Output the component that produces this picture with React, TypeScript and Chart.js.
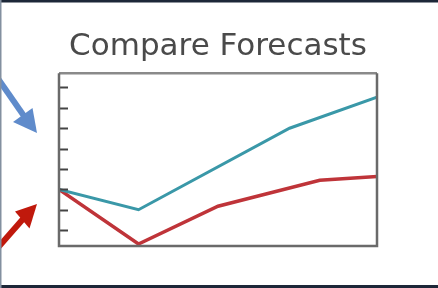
import React, { useEffect, useRef } from "react";
import { Chart, registerables } from "chart.js";

Chart.register(...registerables);

const titleText = "Compare Forecasts";
const seriesNames = ["Forecast A", "Forecast B"];
const tealX = [0, 2.5, 7.25, 10];
const tealY = [3.0, 2.0, 6.0, 7.52];
const redX = [0, 2.5, 5, 8.2, 10];
const redY = [3.0, 0.32, 2.17, 3.45, 3.63];
const yTickValues = [1, 2, 3, 4, 5, 6, 7, 8];

const framePlugin = {
  id: "frameTicks",
  afterDatasetsDraw(chart: any) {
    const { ctx, chartArea } = chart;
    const y = chart.scales.y;
    ctx.save();
    ctx.strokeStyle = "#444";
    ctx.lineWidth = 2;
    yTickValues.forEach((v) => {
      const py = Math.round(y.getPixelForValue(v)) + 0.5;
      ctx.beginPath();
      ctx.moveTo(chartArea.left, py);
      ctx.lineTo(chartArea.left + 9, py);
      ctx.stroke();
    });
    ctx.lineWidth = 2.5;
    ctx.strokeStyle = "#8a8a8a";
    ctx.beginPath();
    ctx.moveTo(chartArea.left, chartArea.top);
    ctx.lineTo(chartArea.right, chartArea.top);
    ctx.stroke();
    ctx.strokeStyle = "#6a6a6a";
    ctx.beginPath();
    ctx.moveTo(chartArea.right, chartArea.top);
    ctx.lineTo(chartArea.right, chartArea.bottom);
    ctx.lineTo(chartArea.left, chartArea.bottom);
    ctx.lineTo(chartArea.left, chartArea.top);
    ctx.stroke();
    ctx.restore();
  },
};

export default function App() {
  const ref = useRef<HTMLCanvasElement | null>(null);
  useEffect(() => {
    if (!ref.current) return;
    const chart = new Chart(ref.current, {
      type: "line",
      data: {
        datasets: [
          {
            label: seriesNames[0],
            data: tealX.map((x, i) => ({ x, y: tealY[i] })),
            borderColor: "#3a98a8",
            borderWidth: 3,
            pointRadius: 0,
            tension: 0,
          },
          {
            label: seriesNames[1],
            data: redX.map((x, i) => ({ x, y: redY[i] })),
            borderColor: "#bf3439",
            borderWidth: 3.5,
            pointRadius: 0,
            tension: 0,
          },
        ],
      },
      options: {
        responsive: false,
        animation: false,
        layout: { padding: { left: 59, right: 61, top: 0, bottom: 42 } },
        plugins: {
          legend: { display: false },
          tooltip: { enabled: false },
          title: {
            display: true,
            text: titleText,
            color: "#4a4a4a",
            font: { family: "'DejaVu Sans'", size: 31, weight: "normal" },
            padding: { top: 28, bottom: 8 },
          },
        },
        scales: {
          x: {
            type: "linear",
            min: 0,
            max: 10,
            ticks: { display: false },
            grid: { display: false, drawTicks: false },
            border: { display: false },
          },
          y: {
            type: "linear",
            min: 0.22,
            max: 8.7,
            ticks: { display: false },
            grid: { display: false, drawTicks: false },
            border: { display: false },
          },
        },
      },
      plugins: [framePlugin],
    } as any);
    return () => chart.destroy();
  }, []);

  return (
    <div
      style={{
        position: "fixed",
        left: 0,
        top: 0,
        width: 438,
        height: 288,
        background: "#fff",
        overflow: "hidden",
      }}
    >
      <canvas
        ref={ref}
        width={438}
        height={288}
        style={{ position: "absolute", left: 0, top: 0, width: 438, height: 288 }}
      />
      <svg
        width={438}
        height={288}
        style={{ position: "absolute", left: 0, top: 0 }}
      >
        <line x1={-6} y1={73} x2={24} y2={116} stroke="#5f8bcb" strokeWidth={6} />
        <polygon points="13,122 32.5,108 37,133" fill="#5f8bcb" />
        <line x1={-6} y1={252} x2={23} y2={219} stroke="#c0190c" strokeWidth={6} />
        <polygon points="15,211.5 29.5,228.5 37,204" fill="#c0190c" />
        <rect x={0} y={0} width={438} height={2.5} fill="#1d2738" />
        <rect x={0} y={285} width={438} height={3} fill="#1d2738" />
        <rect x={0} y={0} width={1.5} height={288} fill="#8390a0" />
      </svg>
    </div>
  );
}
